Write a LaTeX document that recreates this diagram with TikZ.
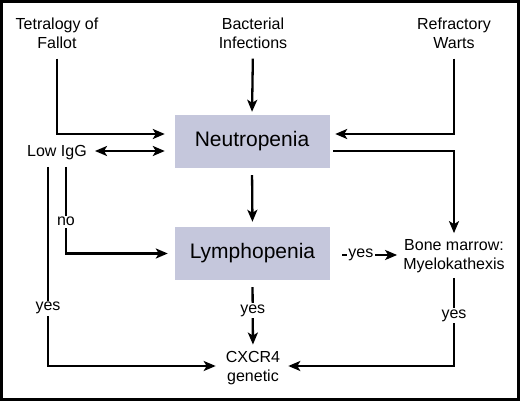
\documentclass[tikz,border=0pt]{standalone}
\usepackage{fontspec}
\setmainfont{Liberation Sans}
\usetikzlibrary{arrows.meta,positioning}
\definecolor{boxgrey}{RGB}{197,199,220}
\tikzset{
  txt/.style={ align=center, inner sep=0pt, font=\fontsize{16}{19}\selectfont }
}
\tikzset{
  bigbox/.style={ fill=boxgrey, minimum width=155pt, minimum height=53pt, inner sep=0pt, font=\fontsize{21}{24}\selectfont }
}
\tikzset{
  arr/.style={ line width=2.3pt, -{Stealth[length=12pt,width=10pt,inset=3pt]} }
}
\tikzset{
  dblarr/.style={ line width=2.3pt, {Stealth[length=12pt,width=10pt,inset=3pt]}-{Stealth[length=12pt,width=10pt,inset=3pt]} }
}
\tikzset{
  lab/.style={ fill=white, inner sep=1.5pt, font=\fontsize{16}{19}\selectfont }
}
\begin{document}
\begin{tikzpicture}[x=1pt, y=-1pt]
      \useasboundingbox (0,0) rectangle (520,401);
      \draw[line width=3pt] (1.5,1.5) rectangle (518.5,399.5);

      \node[txt] (fallot) at (57, 33) {Tetralogy of\\Fallot};
      \node[txt] (bact) at (253, 33) {Bacterial\\Infections};
      \node[txt] (warts) at (454, 33) {Refractory\\Warts};

      \node[bigbox] (neutro) at (252, 141.5) {Neutropenia};
      \node[bigbox] (lympho) at (252.5, 253.5) {Lymphopenia};

      \node[txt] (lowigg) at (57, 152.5) {Low IgG};
      \node[txt] (marrow) at (454, 256) {Bone marrow:\\Myelokathexis};
      \node[txt] (cxcr) at (253, 368.5) {CXCR4\\genetic};

      % into neutropenia
      \draw[arr, shorten <=10pt, shorten >=9.5pt] (fallot.south) |- ([yshift=7.5pt]neutro.west);
      \draw[arr, shorten <=10pt, shorten >=3pt] (bact.south) -- (neutro.north);
      \draw[arr, shorten <=10pt, shorten >=5.5pt] (warts.south) |- ([yshift=7.5pt]neutro.east);
      \draw[dblarr, shorten <=9.5pt, shorten >=8pt]
        ([yshift=-9.5pt]neutro.west) -- ([yshift=-9.5pt]neutro.west -| lowigg.east);

      % out of neutropenia
      \draw[arr, shorten <=3.5pt, shorten >=6pt] ([yshift=-9.5pt]neutro.east) -| (marrow.north);
      \draw[arr, shorten <=7pt, shorten >=5pt] (neutro.south) -- (lympho.north);

      % low IgG branches
      \draw[arr, shorten <=7pt, shorten >=7pt] ([xshift=9pt]lowigg.south) |- node[lab, pos=0.33] {no} (lympho.west);
      \draw[arr, shorten <=7pt, shorten >=10pt] ([xshift=-9pt]lowigg.south) |- node[lab, pos=0.36] {yes} ([yshift=2.5pt]cxcr.west);

      % lymphopenia and marrow
      \draw[arr, shorten <=12pt, shorten >=6pt] ([yshift=-1.5pt]lympho.east) -- node[lab, pos=0.42] {yes} ([yshift=-1.5pt]lympho.east -| marrow.west);
      \draw[arr, shorten <=7pt, shorten >=7pt] (lympho.south) -- node[lab, pos=0.43] {yes} (cxcr.north);
      \draw[arr, shorten <=5pt, shorten >=8pt] (marrow.south) |- node[lab, pos=0.23] {yes} ([yshift=2.5pt]cxcr.east);
    \end{tikzpicture}
\end{document}
